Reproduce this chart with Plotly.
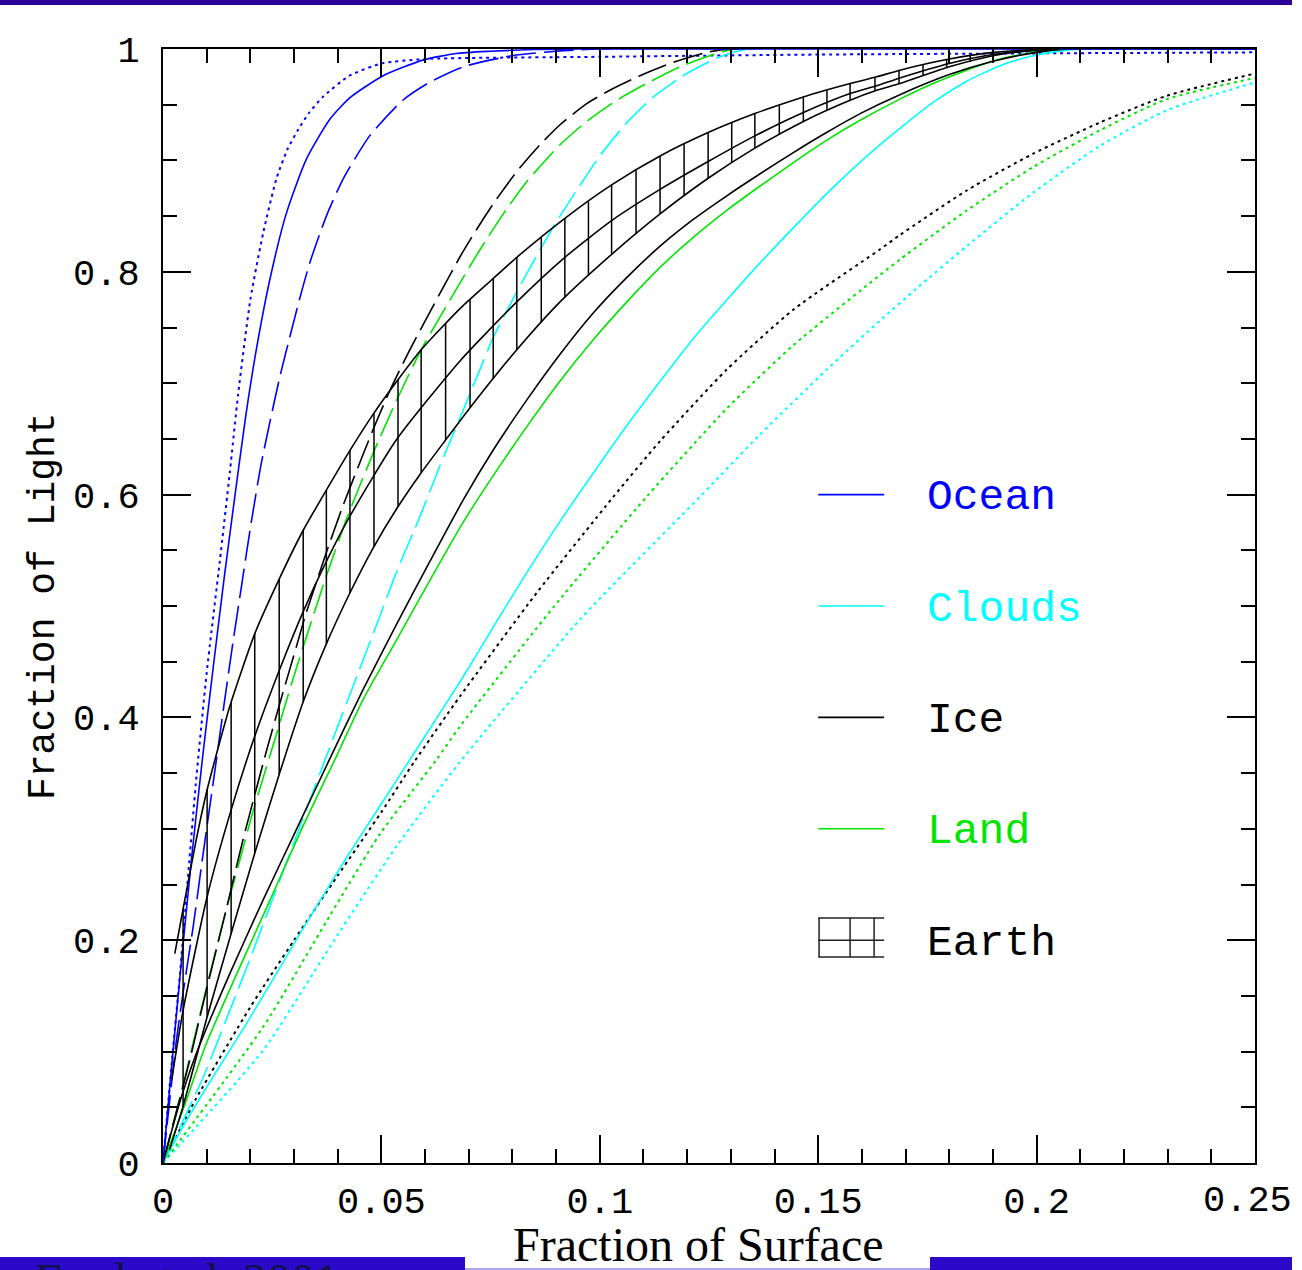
import numpy as np
import plotly.graph_objects as go

# ---------------- data ----------------
ocean_solid_x = [0, 0.002, 0.0042, 0.0065, 0.009, 0.0115, 0.014, 0.0165, 0.019, 0.0214, 0.0244, 0.0282, 0.0328, 0.0382, 0.0427, 0.0504, 0.0595, 0.0671, 0.075, 0.085, 0.095, 0.25]
ocean_solid_y = [0, 0.088, 0.18, 0.272, 0.362, 0.445, 0.525, 0.6, 0.672, 0.731, 0.792, 0.852, 0.901, 0.937, 0.956, 0.976, 0.99, 0.996, 0.998, 0.9995, 1.0, 1.0]

ocean_dash_x = [0, 0.003, 0.0046, 0.0069, 0.0092, 0.0118, 0.0141, 0.016, 0.0179, 0.0202, 0.0225, 0.0267, 0.029, 0.0313, 0.0336, 0.0374, 0.0412, 0.0473, 0.0549, 0.061, 0.0687, 0.08, 0.09, 0.1, 0.25]
ocean_dash_y = [0, 0.108, 0.153, 0.212, 0.278, 0.35, 0.415, 0.467, 0.516, 0.575, 0.628, 0.705, 0.741, 0.776, 0.808, 0.85, 0.883, 0.922, 0.954, 0.97, 0.984, 0.994, 0.998, 1.0, 1.0]

ocean_dot_x = [0, 0.002, 0.004, 0.006, 0.0075, 0.01, 0.013, 0.0153, 0.0172, 0.02, 0.023, 0.026, 0.0285, 0.031, 0.0335, 0.0366, 0.0427, 0.05, 0.06, 0.1, 0.15, 0.25]
ocean_dot_y = [0, 0.09, 0.175, 0.27, 0.34, 0.44, 0.54, 0.62, 0.69, 0.775, 0.836, 0.884, 0.91, 0.928, 0.943, 0.957, 0.976, 0.987, 0.991, 0.993, 0.995, 0.997]

ice_solid_x = [0, 0.0038, 0.0076, 0.0153, 0.0229, 0.0305, 0.0382, 0.0458, 0.0534, 0.0611, 0.0687, 0.0756, 0.0833, 0.0909, 0.0985, 0.1062, 0.1138, 0.1214, 0.129, 0.1367, 0.1443, 0.1519, 0.1596, 0.1687, 0.18, 0.19, 0.2, 0.207, 0.25]
ice_solid_y = [0, 0.054, 0.098, 0.17, 0.236, 0.299, 0.363, 0.425, 0.483, 0.54, 0.595, 0.64, 0.685, 0.726, 0.763, 0.795, 0.823, 0.847, 0.868, 0.888, 0.907, 0.925, 0.942, 0.959, 0.977, 0.989, 0.997, 1.0, 1.0]

ice_dash_x = [0, 0.0061, 0.0099, 0.0145, 0.0183, 0.0237, 0.0267, 0.0305, 0.0328, 0.0374, 0.0412, 0.0458, 0.0488, 0.0519, 0.0565, 0.068, 0.0718, 0.0756, 0.081, 0.0863, 0.0909, 0.097, 0.1023, 0.1092, 0.1168, 0.1245, 0.13, 0.25]
ice_dash_y = [0, 0.092, 0.155, 0.228, 0.29, 0.37, 0.412, 0.463, 0.494, 0.548, 0.59, 0.636, 0.665, 0.693, 0.73, 0.8135, 0.838, 0.861, 0.89, 0.914, 0.932, 0.951, 0.963, 0.976, 0.988, 0.997, 1.0, 1.0]

ice_dot_x = [0, 0.0076, 0.02, 0.03, 0.04, 0.05, 0.0575, 0.068, 0.0856, 0.1031, 0.1138, 0.129, 0.1443, 0.1641, 0.1687, 0.184, 0.1992, 0.2145, 0.2298, 0.25]
ice_dot_y = [0, 0.058, 0.14, 0.2, 0.258, 0.315, 0.36, 0.419, 0.512, 0.598, 0.648, 0.712, 0.766, 0.82, 0.833, 0.873, 0.906, 0.934, 0.958, 0.978]

land_solid_x = [0, 0.0046, 0.0099, 0.0176, 0.0252, 0.032, 0.0397, 0.0458, 0.0534, 0.0611, 0.0687, 0.0756, 0.0833, 0.0909, 0.0985, 0.1062, 0.1138, 0.1214, 0.129, 0.1367, 0.1443, 0.1519, 0.1596, 0.1687, 0.1763, 0.184, 0.1916, 0.2008, 0.208, 0.25]
land_solid_y = [0, 0.048, 0.107, 0.176, 0.242, 0.302, 0.365, 0.416, 0.469, 0.523, 0.575, 0.617, 0.661, 0.702, 0.739, 0.773, 0.804, 0.831, 0.855, 0.877, 0.898, 0.918, 0.936, 0.955, 0.969, 0.981, 0.991, 0.998, 1.0, 1.0]

land_dash_x = [0, 0.0046, 0.0095, 0.0141, 0.0176, 0.0202, 0.0259, 0.0298, 0.0328, 0.0374, 0.042, 0.0481, 0.0534, 0.0591, 0.068, 0.0726, 0.0779, 0.0833, 0.0909, 0.097, 0.1039, 0.1107, 0.1184, 0.126, 0.131, 0.25]
land_dash_y = [0, 0.07, 0.15, 0.222, 0.272, 0.31, 0.384, 0.435, 0.472, 0.527, 0.578, 0.637, 0.684, 0.73, 0.79, 0.82, 0.852, 0.881, 0.914, 0.935, 0.954, 0.969, 0.984, 0.995, 1.0, 1.0]

land_dot_x = [0, 0.0229, 0.0382, 0.0496, 0.0626, 0.068, 0.0894, 0.1107, 0.129, 0.1443, 0.1641, 0.1687, 0.184, 0.1992, 0.2145, 0.2298, 0.25]
land_dot_y = [0, 0.122, 0.222, 0.295, 0.362, 0.392, 0.499, 0.598, 0.677, 0.734, 0.797, 0.811, 0.855, 0.894, 0.927, 0.955, 0.974]

cloud_solid_x = [0, 0.0046, 0.0114, 0.0191, 0.0267, 0.0343, 0.042, 0.0496, 0.0575, 0.068, 0.0756, 0.0833, 0.0909, 0.1062, 0.1214, 0.1367, 0.1519, 0.1641, 0.1763, 0.184, 0.1916, 0.1992, 0.2069, 0.213, 0.25]
cloud_solid_y = [0, 0.033, 0.077, 0.125, 0.175, 0.225, 0.274, 0.32, 0.368, 0.432, 0.481, 0.53, 0.576, 0.662, 0.74, 0.808, 0.87, 0.914, 0.952, 0.971, 0.985, 0.994, 0.999, 1.0, 1.0]

cloud_dash_x = [0, 0.0092, 0.0153, 0.0198, 0.0374, 0.0435, 0.0488, 0.0534, 0.0588, 0.0633, 0.068, 0.0718, 0.0756, 0.081, 0.0871, 0.0909, 0.0962, 0.1, 0.1062, 0.1123, 0.1199, 0.1275, 0.134, 0.25]
cloud_dash_y = [0, 0.077, 0.137, 0.182, 0.365, 0.428, 0.482, 0.53, 0.58, 0.625, 0.669, 0.705, 0.741, 0.782, 0.825, 0.85, 0.882, 0.904, 0.934, 0.957, 0.978, 0.993, 1.0, 1.0]

cloud_dot_x = [0, 0.0229, 0.0382, 0.0534, 0.068, 0.0955, 0.1229, 0.1367, 0.1519, 0.1641, 0.1725, 0.184, 0.1992, 0.2145, 0.2298, 0.25]
cloud_dot_y = [0, 0.101, 0.194, 0.284, 0.36, 0.488, 0.598, 0.654, 0.712, 0.756, 0.785, 0.823, 0.871, 0.913, 0.945, 0.97]

earth_upper_x = [0.0027, 0.0046, 0.0076, 0.0101, 0.0153, 0.021, 0.0267, 0.0321, 0.0374, 0.0427, 0.0481, 0.0534, 0.0591, 0.068, 0.0756, 0.081, 0.092, 0.1027, 0.1138, 0.1248, 0.1355, 0.1466, 0.1573, 0.1634, 0.1687, 0.18, 0.19, 0.2, 0.205]
earth_upper_y = [0.188, 0.228, 0.29, 0.335, 0.41, 0.475, 0.525, 0.568, 0.604, 0.639, 0.672, 0.701, 0.73, 0.767, 0.794, 0.813, 0.848, 0.878, 0.904, 0.925, 0.942, 0.957, 0.969, 0.975, 0.981, 0.991, 0.997, 0.9995, 1.0]

earth_mid_x = [0.002, 0.0046, 0.0101, 0.0156, 0.021, 0.0267, 0.0321, 0.0374, 0.0427, 0.0534, 0.068, 0.081, 0.092, 0.1027, 0.1138, 0.1248, 0.1355, 0.1466, 0.1573, 0.1634, 0.1687, 0.18, 0.19, 0.2, 0.205]
earth_mid_y = [0.075, 0.137, 0.239, 0.317, 0.383, 0.443, 0.495, 0.54, 0.58, 0.649, 0.72, 0.773, 0.813, 0.846, 0.874, 0.899, 0.922, 0.943, 0.96, 0.967, 0.974, 0.987, 0.995, 0.999, 1.0]

earth_lower_x = [0.0015, 0.0046, 0.0101, 0.0156, 0.021, 0.0267, 0.0321, 0.0374, 0.0427, 0.0481, 0.0536, 0.059, 0.0647, 0.0703, 0.081, 0.0909, 0.1031, 0.1138, 0.1248, 0.1355, 0.1466, 0.1573, 0.1634, 0.1687, 0.18, 0.19, 0.2, 0.205]
earth_lower_y = [0.012, 0.051, 0.131, 0.206, 0.278, 0.35, 0.414, 0.466, 0.511, 0.552, 0.588, 0.619, 0.649, 0.678, 0.73, 0.773, 0.817, 0.852, 0.884, 0.911, 0.935, 0.954, 0.963, 0.969, 0.984, 0.994, 0.999, 1.0]

earth_hatch_x = [0.0046, 0.0101, 0.0156, 0.0210, 0.0266, 0.0321, 0.0374, 0.0428, 0.0483, 0.0538, 0.0591, 0.0647, 0.0703, 0.0756, 0.0810, 0.0866, 0.0920, 0.0974, 0.1027, 0.1083, 0.1138, 0.1193, 0.1248, 0.1302, 0.1355, 0.1411, 0.1466, 0.1520, 0.1573, 0.1630, 0.1685, 0.1740, 0.1794, 0.1848, 0.1902]

legend_names = ["Ocean", "Clouds", "Ice", "Land", "Earth"]
legend_colors = ["#0000ff", "#00ffff", "#000000", "#00e600", "#000000"]
legend_y = [0.6, 0.5, 0.4, 0.3, 0.2]

x_ticks = [0, 0.05, 0.1, 0.15, 0.2, 0.25]
x_tick_text = ["0", "0.05", "0.1", "0.15", "0.2", "0.25"]
y_ticks = [0, 0.2, 0.4, 0.6, 0.8, 1.0]
y_tick_text = ["0", "0.2", "0.4", "0.6", "0.8", "1"]

BLUE, CYAN, BLACK, GREEN = "#0000ff", "#00ffff", "#000000", "#00e600"
DASH = "30px,8px"
DOT = "3px,4px"

fig = go.Figure()

def add(x, y, color, dash="solid", width=1.6):
    fig.add_trace(go.Scatter(x=x, y=y, mode="lines", showlegend=False, hoverinfo="skip",
                             line=dict(color=color, width=width, dash=dash, shape="spline", smoothing=0.6)))

# dotted
add(cloud_dot_x, cloud_dot_y, CYAN, DOT, 2)
add(land_dot_x, land_dot_y, GREEN, DOT, 2)
add(ice_dot_x, ice_dot_y, BLACK, DOT, 2)
add(ocean_dot_x, ocean_dot_y, BLUE, DOT, 2)
# dashed
add(cloud_dash_x, cloud_dash_y, CYAN, DASH)
add(land_dash_x, land_dash_y, GREEN, DASH)
add(ice_dash_x, ice_dash_y, BLACK, DASH)
add(ocean_dash_x, ocean_dash_y, BLUE, DASH)
# solid
add(cloud_solid_x, cloud_solid_y, CYAN)
add(land_solid_x, land_solid_y, GREEN)
add(ice_solid_x, ice_solid_y, BLACK)
add(ocean_solid_x, ocean_solid_y, BLUE)
# Earth band
add(earth_upper_x, earth_upper_y, BLACK, "solid", 1.6)
add(earth_mid_x, earth_mid_y, BLACK, "solid", 1.6)
add(earth_lower_x, earth_lower_y, BLACK, "solid", 1.6)

hx = np.array(earth_hatch_x)
hu = np.interp(hx, earth_upper_x, earth_upper_y)
hl = np.interp(hx, earth_lower_x, earth_lower_y)
vx, vy = [], []
for a, u, l in zip(hx, hu, hl):
    vx += [a, a, None]
    vy += [l, u, None]
fig.add_trace(go.Scatter(x=vx, y=vy, mode="lines", showlegend=False, hoverinfo="skip",
                         line=dict(color=BLACK, width=1.5)))

# ---------------- legend (drawn manually) ----------------
LX0, LX1, LTX = 0.15, 0.1651, 0.1744
for name, col, yy in zip(legend_names, legend_colors, legend_y):
    if name != "Earth":
        fig.add_shape(type="line", xref="x", yref="y", x0=LX0, x1=LX1, y0=yy, y1=yy,
                      line=dict(color=col, width=1.6))
    fig.add_annotation(x=LTX, y=yy, xref="x", yref="y", text=name, showarrow=False,
                       xanchor="left", yanchor="middle", yshift=-3,
                       font=dict(family="Liberation Mono", size=43, color=col))
# Earth symbol
ey = legend_y[4]
for yy in [ey + 0.02, ey, ey - 0.015]:
    fig.add_shape(type="line", xref="x", yref="y", x0=LX0, x1=LX1, y0=yy, y1=yy,
                  line=dict(color="#222222", width=1.5))
for xx in [0.1502, 0.1573, 0.1628]:
    fig.add_shape(type="line", xref="x", yref="y", x0=xx, x1=xx, y0=ey - 0.015, y1=ey + 0.02,
                  line=dict(color="#222222", width=1.5))

# ---------------- layout ----------------
W, H = 1292, 1270
L, R, T, B = 163, 1255, 49, 1163
pw, ph = R - L, B - T

def px(xp):
    return (xp - L) / pw

def py(yp):
    return (B - yp) / ph

# top bar
fig.add_shape(type="rect", xref="paper", yref="paper", x0=px(0), x1=px(W), y0=py(0), y1=py(5),
              fillcolor="#2c0096", line_width=0, layer="above")
# bottom bars
fig.add_shape(type="rect", xref="paper", yref="paper", x0=px(0), x1=px(465), y0=py(1257), y1=py(H),
              fillcolor="#2a0ac8", line_width=0, layer="above")
fig.add_shape(type="rect", xref="paper", yref="paper", x0=px(930), x1=px(W), y0=py(1257), y1=py(H),
              fillcolor="#2a0ac8", line_width=0, layer="above")
fig.add_shape(type="rect", xref="paper", yref="paper", x0=px(465), x1=px(930), y0=py(1268), y1=py(H),
              fillcolor="#a8a8e8", line_width=0, layer="above")

fig.add_annotation(xref="paper", yref="paper", x=px(698), y=py(1244), text="Fraction of Surface",
                   showarrow=False, xanchor="center", yanchor="middle",
                   font=dict(family="Liberation Serif", size=48, color="black"))
fig.add_annotation(xref="paper", yref="paper", x=px(43), y=py(606), text="Fraction of Light",
                   showarrow=False, xanchor="center", yanchor="middle", textangle=-90,
                   font=dict(family="Liberation Mono", size=38, color="black"))
fig.add_annotation(xref="paper", yref="paper", x=px(33), y=py(1252), text="Ford et al. 2001",
                   showarrow=False, xanchor="left", yanchor="top",
                   font=dict(family="Liberation Serif", size=48, color="#10104a"))

# last x tick label kept inside the visible page width
tick_font = dict(family="Liberation Mono", size=37, color="black")
fig.add_annotation(xref="x", yref="paper", x=x_ticks[-1], y=py(1201), text=x_tick_text[-1],
                   showarrow=False, xanchor="center", yanchor="middle", xshift=-8,
                   font=tick_font)
x_tick_text_axis = x_tick_text[:-1] + [""]

axis_common = dict(showline=True, linecolor="black", linewidth=2, mirror="ticks",
                   ticks="inside", ticklen=28, tickwidth=2, tickcolor="black",
                   showgrid=False, zeroline=False, tickfont=tick_font)

fig.update_xaxes(range=[0, 0.25], tickvals=x_ticks, ticktext=x_tick_text_axis,
                 minor=dict(dtick=0.01, ticklen=14, tickwidth=2, tickcolor="black", ticks="inside", showgrid=False),
                 ticklabelstandoff=4, **axis_common)
fig.update_yaxes(range=[0, 1], tickvals=y_ticks, ticktext=y_tick_text,
                 minor=dict(dtick=0.05, ticklen=14, tickwidth=2, tickcolor="black", ticks="inside", showgrid=False),
                 ticklabelstandoff=14, **axis_common)

fig.update_layout(width=W, height=H, margin=dict(l=L, r=W - R, t=T, b=H - B, pad=0),
                  paper_bgcolor="white", plot_bgcolor="white", showlegend=False, autosize=False)

fig.write_html("out.html", config={"responsive": False})
